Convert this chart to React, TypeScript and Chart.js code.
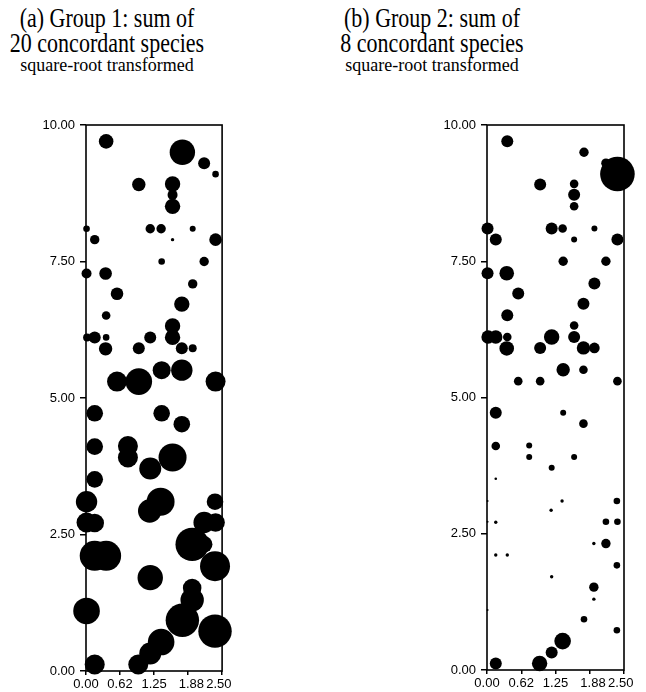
import React, { useEffect, useRef } from "react";
import { Chart, registerables } from "chart.js";

Chart.register(...registerables);

// Sampling sites (shared by both panels)
const siteX = [
  0.37, 1.77, 2.17, 2.38, 0.97, 1.59, 1.59, 1.59, 0.01, 1.18,
  1.38, 1.96, 0.16, 1.59, 2.38, 1.39, 2.17, 0.01, 0.36, 1.96,
  0.57, 1.76, 0.37, 1.59, 1.59, 0.02, 0.16, 0.37, 0.36, 1.18,
  0.97, 1.76, 1.96, 1.39, 1.76, 0.57, 0.97, 2.38, 0.16, 1.39,
  1.76, 0.16, 0.77, 0.77, 1.59, 1.18, 0.16, 0.01, 1.37, 1.17,
  2.37, 0.01, 0.16, 2.17, 2.38, 1.95, 2.17, 0.16, 0.37, 2.37,
  1.18, 1.95, 1.95, 0.01, 1.77, 2.37, 1.38, 1.18, 0.96, 0.16,
];
const siteY = [
  9.70, 9.50, 9.30, 9.10, 8.91, 8.92, 8.72, 8.51, 8.10, 8.10,
  8.10, 8.10, 7.90, 7.90, 7.90, 7.50, 7.50, 7.28, 7.28, 7.09,
  6.91, 6.72, 6.51, 6.32, 6.11, 6.11, 6.11, 6.11, 5.90, 6.11,
  5.91, 5.91, 5.91, 5.51, 5.51, 5.30, 5.30, 5.30, 4.72, 4.72,
  4.52, 4.11, 4.12, 3.91, 3.91, 3.71, 3.51, 3.10, 3.10, 2.93,
  3.10, 2.72, 2.71, 2.72, 2.72, 2.32, 2.32, 2.11, 2.11, 1.92,
  1.71, 1.52, 1.30, 1.10, 0.93, 0.73, 0.53, 0.32, 0.12, 0.12,
];
// Bubble sizes (radius) for group 1 and group 2
const sizeGroup1 = [
  7.3, 12.7, 6, 3.3, 6.7, 7.7, 5, 7.7, 3.3, 4.7,
  4.7, 3, 4.7, 1.7, 6.3, 3.3, 4.7, 5, 6.3, 4.7,
  6.3, 7.7, 4.3, 7.7, 7.7, 4, 6, 3.3, 6.7, 6,
  6, 6, 4, 9, 10.7, 10, 13.3, 10, 8.3, 8.3,
  8.3, 8.3, 10, 10, 14, 11, 8.3, 10.7, 14, 11.7,
  8.3, 10, 9.3, 10.7, 9.3, 16.7, 8.3, 15, 15, 15,
  12.7, 9.3, 11.7, 13.3, 16.7, 16.7, 13.3, 11, 10, 10,
];
const sizeGroup2 = [
  6, 4.7, 4.7, 17.3, 6, 4.3, 6, 4.3, 6, 6,
  4.3, 3, 6, 3, 6, 4.7, 4.7, 6, 7.3, 6,
  6, 6, 6, 4.3, 6, 6.7, 6.7, 4.3, 7.3, 7.7,
  6, 6.7, 5.3, 6.7, 4.3, 4.3, 4.3, 4.3, 6, 3,
  4.3, 4.3, 3, 3, 3, 3, 1.3, 1, 1.7, 1.7,
  3.3, 1, 1.7, 3.3, 3.3, 1.7, 4.7, 1.7, 1.7, 3.3,
  1.7, 4.7, 1.7, 1, 3.3, 3.3, 8.3, 6, 7.7, 6,
];

const xTickValues = [0, 0.625, 1.25, 1.875, 2.5];
const xTickLabels = ["0.00", "0.62", "1.25", "1.88", "2.50"];
const yTickValues = [0, 2.5, 5, 7.5, 10];
const yTickLabels = ["0.00", "2.50", "5.00", "7.50", "10.00"];

const titleA = ["(a) Group 1: sum of", "20 concordant species", "square-root transformed"];
const titleB = ["(b) Group 2: sum of", "8 concordant species", "square-root transformed"];

const framePlugin = {
  id: "frame",
  afterDatasetsDraw(chart: any) {
    const { ctx, chartArea } = chart;
    const { left, top, right, bottom } = chartArea;
    ctx.save();
    ctx.strokeStyle = "#000";
    ctx.lineWidth = 1.6;
    ctx.strokeRect(left, top, right - left, bottom - top);
    ctx.restore();
  },
};

const tickFont = { family: "'Liberation Sans', Arial, sans-serif", size: 13 };

// nudge the last two labels toward each other, as in the original print
const EN = "\u2002";
function xLabel(i: number) {
  const t = xTickLabels[i];
  if (i === xTickLabels.length - 2) return EN + t;
  if (i === xTickLabels.length - 1) return t + EN;
  return t;
}

type PanelProps = {
  sizes: number[];
  left: number;
  top: number;
  width: number;
  height: number;
  yAxisWidth: number;
  xAxisHeight: number;
  padTop: number;
  padRight: number;
};

function Panel(p: PanelProps) {
  const ref = useRef<HTMLCanvasElement | null>(null);
  useEffect(() => {
    if (!ref.current) return;
    const data = siteX.map((x, i) => ({ x, y: siteY[i], r: p.sizes[i] }));
    const chart = new Chart(ref.current, {
      type: "bubble",
      data: {
        datasets: [
          {
            data,
            backgroundColor: "#000",
            borderWidth: 0,
            hoverRadius: 0,
            clip: false as any,
          } as any,
        ],
      },
      plugins: [framePlugin],
      options: {
        animation: false,
        responsive: false,
        devicePixelRatio: 1,
        events: [],
        layout: {
          autoPadding: false,
          padding: { top: p.padTop, right: p.padRight, left: 0, bottom: 0 },
        },
        plugins: {
          legend: { display: false },
          tooltip: { enabled: false },
          title: { display: false },
        },
        scales: {
          x: {
            type: "linear",
            min: 0,
            max: 2.5,
            afterBuildTicks: (s: any) => {
              s.ticks = xTickValues.map((v) => ({ value: v }));
            },
            afterFit: (s: any) => {
              s.height = p.xAxisHeight;
            },
            ticks: {
              autoSkip: false,
              maxRotation: 0,
              padding: 2,
              color: "#000",
              font: tickFont,
              callback: (_v: any, i: number) => xLabel(i),
            },
            grid: {
              display: true,
              drawOnChartArea: false,
              drawTicks: true,
              tickLength: 4,
              color: "#000",
              lineWidth: 1.5,
            },
            border: { display: false },
          },
          y: {
            type: "linear",
            min: 0,
            max: 10,
            afterBuildTicks: (s: any) => {
              s.ticks = yTickValues.map((v) => ({ value: v }));
            },
            afterFit: (s: any) => {
              s.width = p.yAxisWidth;
            },
            ticks: {
              autoSkip: false,
              padding: 5,
              color: "#000",
              font: tickFont,
              callback: (_v: any, i: number) => yTickLabels[i],
            },
            grid: {
              display: true,
              drawOnChartArea: false,
              drawTicks: true,
              tickLength: 6,
              color: "#000",
              lineWidth: 1.5,
            },
            border: { display: false },
          },
        },
      } as any,
    });
    return () => chart.destroy();
  }, []);
  return (
    <canvas
      ref={ref}
      width={p.width}
      height={p.height}
      style={{ position: "absolute", left: p.left, top: p.top, width: p.width, height: p.height }}
    />
  );
}

const serif = "'Liberation Serif', 'Times New Roman', serif";

function Title({ lines, cx }: { lines: string[]; cx: number }) {
  const base: React.CSSProperties = {
    position: "absolute",
    left: cx - 160,
    width: 320,
    textAlign: "center",
    fontFamily: serif,
    color: "#000",
    whiteSpace: "nowrap",
    transformOrigin: "50% 0",
  };
  return (
    <>
      <div style={{ ...base, top: 4.5, fontSize: 22, lineHeight: "22px", transform: "scaleY(1.2)" }}>
        {lines[0]}
      </div>
      <div style={{ ...base, top: 30, fontSize: 22, lineHeight: "22px", transform: "scaleY(1.2)" }}>
        {lines[1]}
      </div>
      <div style={{ ...base, top: 54, fontSize: 18, lineHeight: "18px", transform: "scaleY(1.1)" }}>
        {lines[2]}
      </div>
    </>
  );
}

export default function App() {
  return (
    <div>
      <Title lines={titleA} cx={107} />
      <Title lines={titleB} cx={432} />
      <Panel
        sizes={sizeGroup1}
        left={0}
        top={110}
        width={240}
        height={582}
        yAxisWidth={86}
        xAxisHeight={21}
        padTop={15}
        padRight={16}
      />
      <Panel
        sizes={sizeGroup2}
        left={420}
        top={110}
        width={226}
        height={582}
        yAxisWidth={67}
        xAxisHeight={22}
        padTop={15}
        padRight={22}
      />
    </div>
  );
}
